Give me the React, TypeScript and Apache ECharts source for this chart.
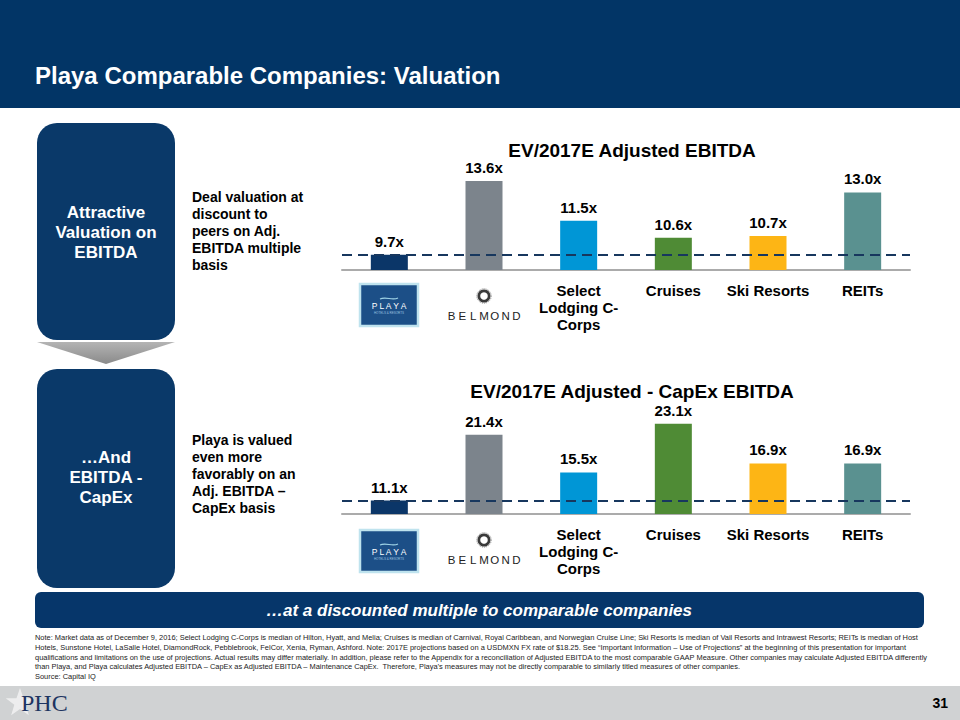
import React, { useEffect, useRef } from "react";
import * as echarts from "echarts";

const categories = ["Playa", "Belmond", "Select\nLodging C-\nCorps", "Cruises", "Ski Resorts", "REITs"];
const ebitdaValues = [9.7, 13.6, 11.5, 10.6, 10.7, 13.0];
const capexValues = [11.1, 21.4, 15.5, 23.1, 16.9, 16.9];
const barColors = ["#0B3668", "#7C848C", "#0096D6", "#4F8B35", "#FDB515", "#5A9190"];
const chartTitles = ["EV/2017E Adjusted EBITDA", "EV/2017E Adjusted - CapEx EBITDA"];

const FONT = "'Liberation Sans', Arial, Helvetica, sans-serif";
const NAVY = "#023566";

const noteText = [
  "Note: Market data as of December 9, 2016; Select Lodging C-Corps is median of Hilton, Hyatt, and Melia; Cruises is median of Carnival, Royal Caribbean, and Norwegian Cruise Line; Ski Resorts is median of Vail Resorts and Intrawest Resorts; REITs is median of Host",
  "Hotels, Sunstone Hotel, LaSalle Hotel, DiamondRock, Pebblebrook, FelCor, Xenia, Ryman, Ashford. Note: 2017E projections based on a USDMXN FX rate of $18.25. See \u201cImportant Information \u2013 Use of Projections\u201d at the beginning of this presentation for important",
  "qualifications and limitations on the use of projections. Actual results may differ materially. In addition, please refer to the Appendix for a reconciliation of Adjusted EBITDA to the most comparable GAAP Measure. Other companies may calculate Adjusted EBITDA differently",
  "than Playa, and Playa calculates Adjusted EBITDA \u2013 CapEx as Adjusted EBITDA \u2013 Maintenance CapEx.  Therefore, Playa\u2019s measures may not be directly comparable to similarly titled measures of other companies.",
  "Source: Capital IQ",
].join("\n");

function playaLogo(top: number) {
  const x = 360;
  return {
    type: "group",
    children: [
      { type: "rect", shape: { x, y: top, width: 58, height: 42 }, style: { fill: "#1C4F87", stroke: "#BFE3EE", lineWidth: 2.5 } },
      { type: "bezierCurve", shape: { x1: x + 20, y1: top + 15, x2: x + 38, y2: top + 14, cpx1: x + 26, cpy1: top + 12, cpx2: x + 32, cpy2: top + 17 }, style: { stroke: "#9FD3E6", lineWidth: 1.2, fill: null } },
      { type: "text", x: x + 29, y: top + 22, style: { text: "P L A Y A", fill: "#FFFFFF", font: `8.5px ${FONT}`, align: "center", verticalAlign: "middle" } },
      { type: "text", x: x + 29, y: top + 29, style: { text: "HOTELS & RESORTS", fill: "#9FC3E0", font: `3px ${FONT}`, align: "center", verticalAlign: "middle" } },
    ],
  };
}

function belmondLogo(base: number) {
  const cx = 484;
  const letters = "BELMOND".split("");
  const step = 10.8;
  return {
    type: "group",
    children: [
      { type: "ring", shape: { cx, cy: base + 26, r: 6.5, r0: 3.8 }, style: { fill: "#3A3A3A" } },
      { type: "circle", shape: { cx, cy: base + 26, r: 7.2 }, style: { fill: null, stroke: "#777", lineWidth: 0.9, lineDash: [1, 1] } },
      ...letters.map((ch, i) => ({
        type: "text",
        x: cx + (i - (letters.length - 1) / 2) * step,
        y: base + 46,
        style: { text: ch, fill: "#222", font: `11.5px ${FONT}`, align: "center", verticalAlign: "middle" },
      })),
    ],
  };
}

function starPoints(cx: number, cy: number, R: number, r: number) {
  const pts: number[][] = [];
  for (let i = 0; i < 10; i++) {
    const a = -Math.PI / 2 + (i * Math.PI) / 5;
    const rr = i % 2 === 0 ? R : r;
    pts.push([cx + rr * Math.cos(a), cy + rr * Math.sin(a)]);
  }
  return pts;
}

export default function App() {
  const ref = useRef<HTMLDivElement>(null);
  useEffect(() => {
    if (!ref.current) return;
    const chart = echarts.init(ref.current, null, { renderer: "svg" });
    const grids = [
      { left: 342, right: 50, top: 164, height: 106 },
      { left: 342, right: 50, top: 418, height: 96 },
    ];
    const yRanges = [
      { min: 8.9, max: 14.5 },
      { min: 9.0, max: 24 },
    ];
    const dataSets = [ebitdaValues, capexValues];
    const baselines = [270, 514];

    const option: any = {
      animation: false,
      backgroundColor: "#FFFFFF",
      textStyle: { fontFamily: FONT },
      title: chartTitles.map((t, i) => ({
        text: t,
        left: 627,
        top: i === 0 ? 136 : 377,
        textAlign: "center",
        textStyle: { fontFamily: FONT, fontSize: 19, fontWeight: "bold", color: "#000" },
      })),
      grid: grids,
      xAxis: grids.map((_, i) => ({
        type: "category",
        gridIndex: i,
        data: categories,
        axisLine: { lineStyle: { color: "#ABABAB", width: 2 } },
        axisTick: { show: false },
        axisLabel: {
          interval: 0,
          margin: 12,
          color: "#000",
          fontFamily: FONT,
          fontSize: 15,
          fontWeight: "bold",
          lineHeight: 17,
          formatter: (v: string, idx: number) => (idx < 2 ? "" : v),
        },
      })),
      yAxis: grids.map((_, i) => ({
        type: "value",
        gridIndex: i,
        min: yRanges[i].min,
        max: yRanges[i].max,
        show: false,
        splitLine: { show: false },
      })),
      series: dataSets.map((vals, i) => ({
        type: "bar",
        xAxisIndex: i,
        yAxisIndex: i,
        barWidth: 37,
        data: vals.map((v, j) => ({ value: v, itemStyle: { color: barColors[j] } })),
        label: {
          show: true,
          position: "top",
          distance: 6,
          color: "#000",
          fontFamily: FONT,
          fontSize: 15,
          fontWeight: "bold",
          formatter: (p: any) => Number(p.value).toFixed(1) + "x",
        },
        markLine: {
          silent: true,
          symbol: ["none", "none"],
          label: { show: false },
          lineStyle: { color: "#17375E", width: 2, type: [10, 6] },
          data: [{ yAxis: vals[0] }],
        },
        z: 2,
      })),
      graphic: [
        // header
        { type: "rect", shape: { x: 0, y: 0, width: 960, height: 108 }, style: { fill: NAVY } },
        { type: "text", x: 35, y: 75, style: { text: "Playa Comparable Companies: Valuation", fill: "#FFFFFF", font: `bold 24px ${FONT}`, verticalAlign: "middle" } },
        // left boxes
        { type: "rect", shape: { x: 37, y: 123, width: 138, height: 217, r: 20 }, style: { fill: "#0A3969" } },
        { type: "text", x: 106, y: 232, style: { text: "Attractive\nValuation on\nEBITDA", fill: "#FFFFFF", font: `bold 17px ${FONT}`, lineHeight: 20, align: "center", verticalAlign: "middle" } },
        {
          type: "polygon",
          shape: { points: [[37, 342], [175, 342], [106, 364]] },
          style: { fill: new echarts.graphic.LinearGradient(0, 0, 0, 1, [{ offset: 0, color: "#B4B4B4" }, { offset: 1, color: "#8A8A8A" }]) },
        },
        { type: "rect", shape: { x: 37, y: 369, width: 138, height: 219, r: 20 }, style: { fill: "#0A3969" } },
        { type: "text", x: 106, y: 477, style: { text: "\u2026And\nEBITDA -\nCapEx", fill: "#FFFFFF", font: `bold 17px ${FONT}`, lineHeight: 20, align: "center", verticalAlign: "middle" } },
        // side text
        { type: "text", x: 192, y: 231, style: { text: "Deal valuation at\ndiscount to\npeers on Adj.\nEBITDA multiple\nbasis", fill: "#000", font: `bold 14px ${FONT}`, lineHeight: 17.2, verticalAlign: "middle" } },
        { type: "text", x: 192, y: 474, style: { text: "Playa is valued\neven more\nfavorably on an\nAdj. EBITDA \u2013\nCapEx basis", fill: "#000", font: `bold 14px ${FONT}`, lineHeight: 17.2, verticalAlign: "middle" } },
        // logos
        playaLogo(baselines[0] + 14),
        belmondLogo(baselines[0]),
        playaLogo(baselines[1] + 16),
        belmondLogo(baselines[1]),
        // banner
        { type: "rect", shape: { x: 35, y: 592, width: 889, height: 36, r: 6 }, style: { fill: "#06366A" } },
        { type: "text", x: 479, y: 610, style: { text: "\u2026at a discounted multiple to comparable companies", fill: "#FFFFFF", font: `italic bold 17px ${FONT}`, align: "center", verticalAlign: "middle" } },
        // note
        { type: "text", x: 35, y: 633, style: { text: noteText, fill: "#222", font: `7.45px ${FONT}`, lineHeight: 9.6, verticalAlign: "top" } },
        // footer
        { type: "rect", shape: { x: 0, y: 686, width: 960, height: 34 }, style: { fill: "#D0D2D3" } },
        { type: "polygon", shape: { points: starPoints(20, 703, 15, 6) }, style: { fill: "#F2F2F2", opacity: 0.85 } },
        { type: "text", x: 21, y: 703, style: { text: "PHC", fill: "#1D3461", font: `24px 'Liberation Serif', 'DejaVu Serif', serif`, verticalAlign: "middle" } },
        { type: "text", x: 948, y: 703, style: { text: "31", fill: "#000", font: `bold 14px ${FONT}`, align: "right", verticalAlign: "middle" } },
      ],
    };
    chart.setOption(option);
    return () => chart.dispose();
  }, []);
  return <div ref={ref} style={{ position: "fixed", left: 0, top: 0, width: 960, height: 720 }} />;
}
